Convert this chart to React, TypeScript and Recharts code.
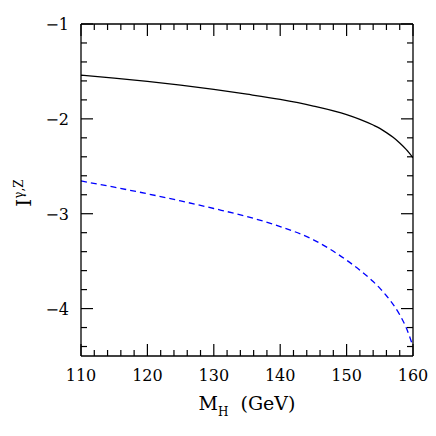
// I^{γ,Z} against the Higgs mass, two curves: solid black and dashed blue.
// Frame has inward ticks on all four sides (major + minor), labels only
// on the left and bottom, like the old PGPLOT/topdrawer style figures.

import { LineChart, Line, XAxis, YAxis } from "recharts";

const FONT = "'DejaVu Serif', 'Liberation Serif', serif";

// Higgs mass (GeV)
const MASS = [110, 115, 120, 125, 130, 135, 140, 145, 150, 152, 154, 155, 156, 157, 158, 159, 160];
// solid black curve
const SOLID = [-1.54, -1.57, -1.605, -1.645, -1.69, -1.74, -1.795, -1.865, -1.955, -2.005, -2.065, -2.1, -2.145, -2.195, -2.255, -2.325, -2.41];
// dashed blue curve
const DASHED = [-2.655, -2.72, -2.79, -2.865, -2.945, -3.03, -3.135, -3.275, -3.49, -3.595, -3.715, -3.785, -3.865, -3.955, -4.065, -4.205, -4.4];

const X_TICKS = [110, 112, 114, 116, 118, 120, 122, 124, 126, 128, 130, 132, 134, 136, 138, 140, 142, 144, 146, 148, 150, 152, 154, 156, 158, 160];
const Y_TICKS = [-1, -1.2, -1.4, -1.6, -1.8, -2, -2.2, -2.4, -2.6, -2.8, -3, -3.2, -3.4, -3.6, -3.8, -4, -4.2, -4.4];

const data = MASS.map((m, i) => ({ m, solid: SOLID[i], dashed: DASHED[i] }));

const MAJOR = 12;
const MINOR = 6;

const isMajorX = (v: number) => v % 10 === 0;
const isMajorY = (v: number) => Math.abs(v - Math.round(v)) < 1e-6;

function BottomTick(props: any) {
  const { x, y, payload } = props;
  const major = isMajorX(payload.value);
  return (
    <g>
      <line x1={x} x2={x} y1={y} y2={y - (major ? MAJOR : MINOR)} stroke="#000" strokeWidth={1.2} />
      {major && (
        <text x={x} y={y + 25} textAnchor="middle" fontFamily={FONT} fontSize={16} fill="#000">
          {payload.value}
        </text>
      )}
    </g>
  );
}

function TopTick(props: any) {
  const { x, y, payload } = props;
  const major = isMajorX(payload.value);
  return <line x1={x} x2={x} y1={y} y2={y + (major ? MAJOR : MINOR)} stroke="#000" strokeWidth={1.2} />;
}

function LeftTick(props: any) {
  const { x, y, payload } = props;
  const major = isMajorY(payload.value);
  return (
    <g>
      <line x1={x} x2={x + (major ? MAJOR : MINOR)} y1={y} y2={y} stroke="#000" strokeWidth={1.2} />
      {major && (
        <text x={x - 12} y={y + 6} textAnchor="end" fontFamily={FONT} fontSize={16} fill="#000">
          {"\u2212" + Math.abs(Math.round(payload.value))}
        </text>
      )}
    </g>
  );
}

function RightTick(props: any) {
  const { x, y, payload } = props;
  const major = isMajorY(payload.value);
  return <line x1={x} x2={x - (major ? MAJOR : MINOR)} y1={y} y2={y} stroke="#000" strokeWidth={1.2} />;
}

function XTitle(props: any) {
  const vb = props.viewBox;
  const cx = vb.x + vb.width / 2;
  return (
    <text x={cx} y={vb.y + 54} textAnchor="middle" fontFamily={FONT} fontSize={19} fill="#000">
      M
      <tspan fontSize={12} dy={6}>H</tspan>
      <tspan dy={-6}>{"\u00a0\u00a0(GeV)"}</tspan>
    </text>
  );
}

function YTitle(props: any) {
  const vb = props.viewBox;
  const cy = vb.y + vb.height / 2 + 3;
  const bx = 31;
  return (
    <text
      x={bx}
      y={cy}
      transform={`rotate(-90, ${bx}, ${cy})`}
      textAnchor="middle"
      fontFamily={FONT}
      fontSize={20}
      fill="#000"
    >
      I
      <tspan fontSize={12} dy={-8}>γ,Z</tspan>
    </text>
  );
}

export default function App() {
  return (
    <div style={{ position: "absolute", left: 0, top: 0, width: 436, height: 436, background: "#fff" }}>
      <LineChart width={436} height={436} data={data} margin={{ top: 0, right: 0, bottom: 0, left: 0 }}>
        <XAxis
          xAxisId="bottom"
          dataKey="m"
          type="number"
          domain={[110, 160]}
          ticks={X_TICKS}
          interval={0}
          height={80}
          tickSize={0}
          tickMargin={0}
          tickLine={false}
          tick={<BottomTick />}
          axisLine={{ stroke: "#000", strokeWidth: 1.3 }}
          allowDataOverflow
          label={<XTitle />}
        />
        <XAxis
          xAxisId="top"
          orientation="top"
          dataKey="m"
          type="number"
          domain={[110, 160]}
          ticks={X_TICKS}
          interval={0}
          height={24}
          tickSize={0}
          tickMargin={0}
          tickLine={false}
          tick={<TopTick />}
          axisLine={{ stroke: "#000", strokeWidth: 1.3 }}
          allowDataOverflow
        />
        <YAxis
          yAxisId="left"
          type="number"
          domain={[-4.5, -1]}
          ticks={Y_TICKS}
          interval={0}
          width={81}
          tickSize={0}
          tickMargin={0}
          tickLine={false}
          tick={<LeftTick />}
          axisLine={{ stroke: "#000", strokeWidth: 1.3 }}
          allowDataOverflow
          label={<YTitle />}
        />
        <YAxis
          yAxisId="right"
          orientation="right"
          type="number"
          domain={[-4.5, -1]}
          ticks={Y_TICKS}
          interval={0}
          width={23}
          tickSize={0}
          tickMargin={0}
          tickLine={false}
          tick={<RightTick />}
          axisLine={{ stroke: "#000", strokeWidth: 1.3 }}
          allowDataOverflow
        />
        <Line
          xAxisId="bottom"
          yAxisId="left"
          type="monotone"
          dataKey="solid"
          stroke="#000"
          strokeWidth={1.3}
          dot={false}
          isAnimationActive={false}
        />
        <Line
          xAxisId="top"
          yAxisId="right"
          type="monotone"
          dataKey="dashed"
          stroke="#0000ff"
          strokeWidth={1.3}
          strokeDasharray="6 4"
          dot={false}
          isAnimationActive={false}
        />
      </LineChart>
    </div>
  );
}
